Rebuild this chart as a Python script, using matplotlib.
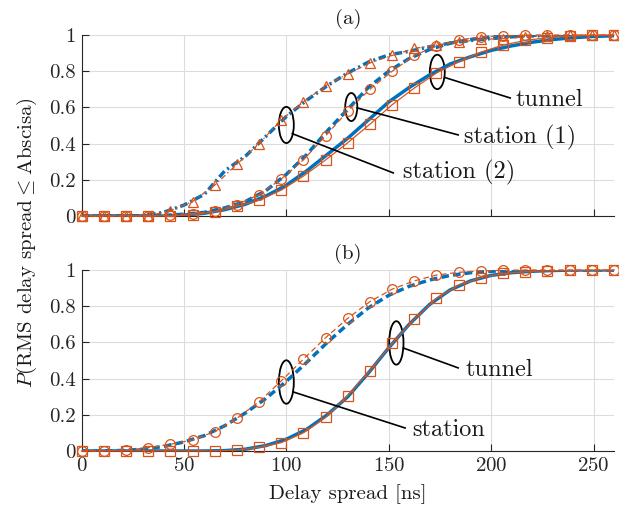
import matplotlib
matplotlib.use("Agg")
import matplotlib.pyplot as plt
from matplotlib.patches import Ellipse

plt.rcParams["font.family"] = ["cmr10", "DejaVu Serif"]
plt.rcParams["mathtext.fontset"] = "cm"
plt.rcParams["axes.formatter.use_mathtext"] = True

# ── Data ─────────────────────────────────────────────────────────────────────
# marker samples (orange, model)
x_mk = [0, 10.8, 21.7, 32.5, 43.3, 54.2, 65, 75.8, 86.7, 97.5, 108.3, 119.2, 130,
        140.8, 151.7, 162.5, 173.3, 184.2, 195, 205.8, 216.7, 227.5, 238.3, 249.2, 260]

a_station2_mk = [0, 0, 0, 0, 0.03, 0.08, 0.17, 0.285, 0.40, 0.53, 0.63, 0.72, 0.785,
                 0.846, 0.887, 0.926, 0.944, 0.96, 0.976, 0.98, 0.99, 0.995, 1, 1, 1]
a_station1_mk = [0, 0, 0, 0, 0.005, 0.013, 0.026, 0.063, 0.118, 0.204, 0.31, 0.443, 0.58,
                 0.70, 0.80, 0.887, 0.94, 0.972, 0.99, 0.995, 1, 1, 1, 1, 1]
a_tunnel_mk = [0, 0, 0, 0, 0, 0.007, 0.022, 0.054, 0.087, 0.143, 0.22, 0.31, 0.405,
               0.507, 0.615, 0.707, 0.79, 0.852, 0.905, 0.944, 0.97, 0.985, 0.993, 0.998, 1]
b_station_mk = [0, 0, 0.005, 0.018, 0.037, 0.061, 0.107, 0.18, 0.272, 0.387, 0.507, 0.626, 0.733,
                0.825, 0.894, 0.94, 0.972, 0.987, 0.995, 0.998, 1, 1, 1, 1, 1]
b_tunnel_mk = [0, 0, 0, 0, 0, 0, 0, 0.005, 0.02, 0.046, 0.10, 0.186, 0.306,
               0.444, 0.595, 0.729, 0.843, 0.917, 0.957, 0.981, 0.99, 0.995, 0.998, 1, 1]

# measured empirical CDFs (blue)
x_meas = [0, 10, 20, 30, 40, 50, 60, 70, 80, 90, 100, 110, 120, 130, 140, 150, 160,
          170, 180, 190, 200, 210, 220, 230, 240, 250, 260]
a_station2 = [0, 0, 0, 0.002, 0.02, 0.06, 0.12, 0.25, 0.33, 0.44, 0.55, 0.64, 0.72, 0.79,
              0.85, 0.89, 0.91, 0.935, 0.955, 0.97, 0.98, 0.99, 0.995, 0.998, 1, 1, 1]
a_station1 = [0, 0, 0, 0, 0.003, 0.01, 0.02, 0.045, 0.08, 0.14, 0.23, 0.34, 0.47, 0.59,
              0.71, 0.80, 0.87, 0.92, 0.955, 0.975, 0.99, 0.995, 0.998, 1, 1, 1, 1]
a_tunnel = [0, 0, 0, 0, 0, 0.005, 0.015, 0.035, 0.065, 0.11, 0.17, 0.25, 0.34, 0.43,
            0.53, 0.63, 0.71, 0.78, 0.84, 0.88, 0.915, 0.94, 0.96, 0.975, 0.985, 0.992, 0.996]
b_station = [0, 0, 0.003, 0.01, 0.025, 0.05, 0.085, 0.14, 0.21, 0.29, 0.385, 0.49, 0.60, 0.70,
             0.79, 0.86, 0.91, 0.945, 0.97, 0.985, 0.993, 0.997, 1, 1, 1, 1, 1]
b_tunnel = [0, 0, 0, 0, 0, 0, 0, 0.002, 0.01, 0.03, 0.065, 0.12, 0.20, 0.30,
            0.43, 0.57, 0.70, 0.81, 0.89, 0.94, 0.97, 0.985, 0.993, 0.997, 1, 1, 1]

x_ticks = [0, 50, 100, 150, 200, 250]
y_ticks = [0, 0.2, 0.4, 0.6, 0.8, 1]
y_ticklabels = ["0", "0.2", "0.4", "0.6", "0.8", "1"]

BLUE = "#0072BD"
ORANGE = "#D95319"
LW_BLUE, LW_ORANGE = 2.5, 0.9

# dash patterns in points, (blue, orange)
DASH = {"-": (None, None),
        "--": ((5.5, 3.0), (4.0, 2.5)),
        "-.": ((5.5, 2.5, 1.5, 2.5), (4.0, 2.0, 1.0, 2.0))}

# ── Figure ───────────────────────────────────────────────────────────────────
fig = plt.figure(figsize=(6.19, 5.16), dpi=100)
ax1 = fig.add_axes([0.1317, 0.5814, 0.8603, 0.3508])
ax2 = fig.add_axes([0.1317, 0.1260, 0.8603, 0.3508])


def style_ax(ax, title, show_x):
    ax.set_xlim(0, 260)
    ax.set_ylim(0, 1)
    ax.set_xticks(x_ticks)
    ax.set_yticks(y_ticks)
    ax.set_yticklabels(y_ticklabels)
    if not show_x:
        ax.set_xticklabels([])
    ax.grid(True, color="#dcdcdc", lw=0.8)
    ax.set_axisbelow(True)
    ax.spines["top"].set_visible(False)
    ax.spines["right"].set_visible(False)
    for s in ("left", "bottom"):
        ax.spines[s].set_color("#262626")
        ax.spines[s].set_linewidth(0.8)
    ax.tick_params(direction="in", length=5, width=0.8, colors="#262626",
                   labelsize=15, labelcolor="#262626", pad=4)
    ax.set_title(title, fontsize=15, pad=8, color="#1a1a1a")


def draw_pair(ax, y_meas, y_mk, ls, marker):
    d_blue, d_orange = DASH[ls]
    lb, = ax.plot(x_meas, y_meas, color=BLUE, lw=LW_BLUE, zorder=3)
    lo, = ax.plot(x_mk, y_mk, color=ORANGE, lw=LW_ORANGE, marker=marker, ms=7,
                  mfc="none", mew=0.9, zorder=4, clip_on=False)
    # matplotlib scales dashes by line width, so undo that
    if d_blue is not None:
        lb.set_dashes([v / LW_BLUE for v in d_blue])
        lo.set_dashes([v / LW_ORANGE for v in d_orange])


def tag(ax, centre, w, h, start, end, text_pos, label):
    ax.add_patch(Ellipse(centre, w, h, fill=False, ec="black", lw=1.3, zorder=2))
    ax.plot([start[0], end[0]], [start[1], end[1]], color="black", lw=1.2, zorder=5)
    ax.text(text_pos[0], text_pos[1], label, fontsize=17.5, ha="left", va="center",
            color="#1a1a1a", zorder=6)


# ── (a) ──────────────────────────────────────────────────────────────────────
style_ax(ax1, "(a)", show_x=False)
draw_pair(ax1, a_tunnel, a_tunnel_mk, "-", "s")
draw_pair(ax1, a_station1, a_station1_mk, "--", "o")
draw_pair(ax1, a_station2, a_station2_mk, "-.", "^")

tag(ax1, (173.7, 0.796), 7.3, 0.19, (177.4, 0.765), (209.3, 0.652), (211.7, 0.641), "tunnel")
tag(ax1, (131.7, 0.602), 5.9, 0.155, (134.6, 0.597), (183.9, 0.448), (186.8, 0.436), "station (1)")
tag(ax1, (100, 0.503), 7.3, 0.20, (102.9, 0.455), (152.2, 0.238), (157.1, 0.238), "station (2)")

# ── (b) ──────────────────────────────────────────────────────────────────────
style_ax(ax2, "(b)", show_x=True)
draw_pair(ax2, b_tunnel, b_tunnel_mk, "-", "s")
draw_pair(ax2, b_station, b_station_mk, "--", "o")

tag(ax2, (153.7, 0.597), 7.0, 0.24, (157.1, 0.569), (183.9, 0.459), (187.3, 0.448), "tunnel")
tag(ax2, (100, 0.381), 7.3, 0.24, (103.4, 0.326), (158, 0.127), (161.5, 0.116), "station")

ax2.set_xlabel("Delay spread [ns]", fontsize=15, color="#1a1a1a", labelpad=7)
fig.text(0.043, 0.53, r"$P$(RMS delay spread $\!\!\leq\!\!$ Abscisa)", rotation=90,
         ha="center", va="center", fontsize=15, color="#1a1a1a")

fig.savefig("out.png", dpi=100)
